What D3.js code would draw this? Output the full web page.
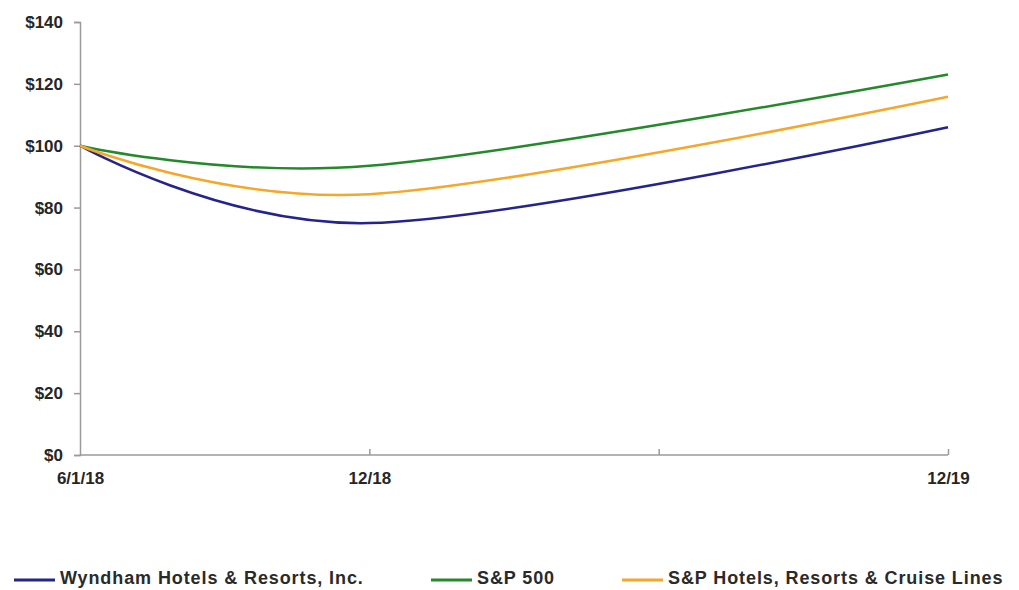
<!DOCTYPE html>
<html>
<head>
<meta charset="utf-8">
<script src="https://cdn.jsdelivr.net/npm/d3@7"></script>
<style>
  body { margin: 0; background: #fff; }
  text { font-family: "Liberation Sans", Arial, sans-serif; }
</style>
</head>
<body>
<svg id="chart" width="1019" height="590"></svg>
<script>
// periods on the x axis (the 6/19 slot has no label)
const periods = ['6/1/18', '12/18', '6/19', '12/19']
const periodLabels = ['6/1/18', '12/18', '', '12/19']
const yTicks = [0, 20, 40, 60, 80, 100, 120, 140]

// value of $100 invested, at 6/1/18, 12/18 and 12/19
const dataPeriods = ['6/1/18', '12/18', '12/19']
const wyndham = [100, 75, 106]
const sp500 = [100, 93.5, 123]
const hotels = [100, 84.3, 115.8]

const seriesNames = ['Wyndham Hotels & Resorts, Inc.', 'S&P 500', 'S&P Hotels, Resorts & Cruise Lines']
const seriesColors = ['#24248c', '#23892a', '#f5a72a']

const series = [wyndham, sp500, hotels].map((vals, i) => ({
  name: seriesNames[i],
  color: seriesColors[i],
  values: vals.map((v, j) => ({ period: dataPeriods[j], value: v }))
}))

const svg = d3.select('#chart')
const margin = { left: 80, right: 71, top: 22, bottom: 135 }
const width = 1019 - margin.left - margin.right
const height = 590 - margin.top - margin.bottom

const g = svg.append('g').attr('transform', `translate(${margin.left},${margin.top})`)

const x = d3.scalePoint().domain(periods).range([0, width])
const y = d3.scaleLinear().domain([0, 140]).range([height, 0])

const yAxis = g.append('g')
  .call(d3.axisLeft(y).tickValues(yTicks).tickFormat(d => '$' + d).tickSize(6).tickPadding(11))
yAxis.selectAll('path, line').attr('stroke', '#9a9a9a').attr('stroke-width', 1.5)
yAxis.selectAll('text').attr('font-size', 17).attr('font-weight', 'bold').attr('fill', '#262626')

const xAxis = g.append('g')
  .attr('transform', `translate(0,${height})`)
  .call(d3.axisTop(x).tickSize(6).tickFormat((d, i) => periodLabels[i]))
xAxis.select('.domain').attr('d', `M0,0H${width}`)
xAxis.selectAll('path, line').attr('stroke', '#9a9a9a').attr('stroke-width', 1.5)
xAxis.selectAll('.tick').filter((d, i) => i === 0).select('line').remove()
xAxis.selectAll('text')
  .attr('y', 24)
  .attr('dy', '0.32em')
  .attr('font-size', 17).attr('font-weight', 'bold').attr('fill', '#262626')

const line = d3.line()
  .x(d => x(d.period))
  .y(d => y(d.value))
  .curve(d3.curveCardinal.tension(0))

g.selectAll('.series')
  .data(series)
  .enter()
  .append('path')
    .attr('class', 'series')
    .attr('fill', 'none')
    .attr('stroke', d => d.color)
    .attr('stroke-width', 2.5)
    .attr('d', d => line(d.values))

// legend
const legendX = [14, 431, 622]
const legend = svg.append('g').attr('transform', 'translate(0,578)')
const items = legend.selectAll('g')
  .data(series)
  .enter()
  .append('g')
    .attr('transform', (d, i) => `translate(${legendX[i]},0)`)
items.append('line')
  .attr('x1', 0).attr('x2', 41)
  .attr('y1', 2).attr('y2', 2)
  .attr('stroke', d => d.color)
  .attr('stroke-width', 3)
items.append('text')
  .attr('x', 46)
  .attr('dy', '0.36em')
  .attr('font-size', 18)
  .attr('font-weight', 'bold')
  .attr('letter-spacing', 0.9)
  .attr('fill', '#2a2a2a')
  .text(d => d.name)
</script>
</body>
</html>
